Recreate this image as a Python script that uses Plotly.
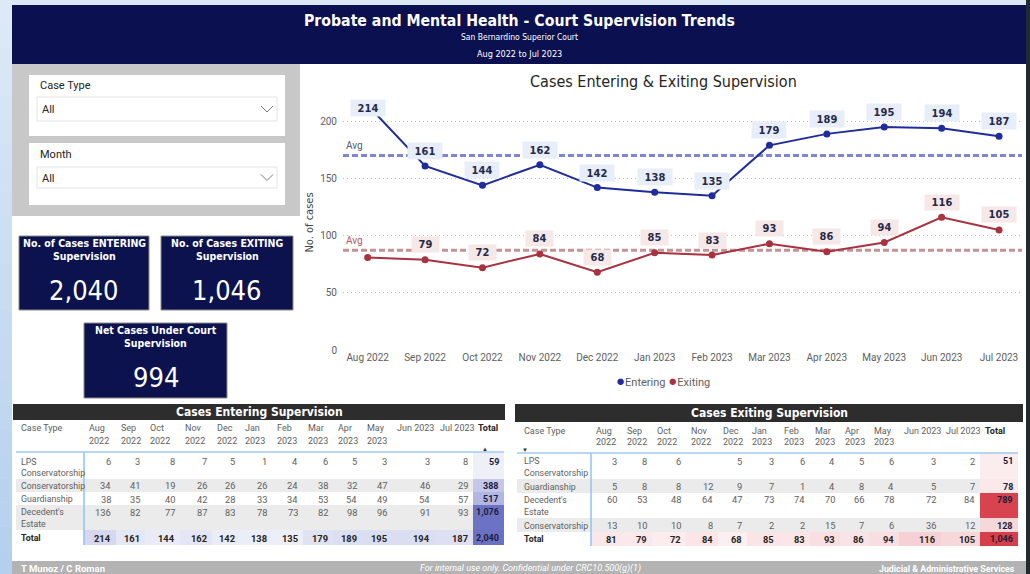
import plotly.graph_objects as go

W, H = 1030, 574

# ---------------- data ----------------
months = ["Aug 2022", "Sep 2022", "Oct 2022", "Nov 2022", "Dec 2022", "Jan 2023",
          "Feb 2023", "Mar 2023", "Apr 2023", "May 2023", "Jun 2023", "Jul 2023"]
entering = [214, 161, 144, 162, 142, 138, 135, 179, 189, 195, 194, 187]
exiting = [81, 79, 72, 84, 68, 85, 83, 93, 86, 94, 116, 105]

ent_types = ["LPS Conservatorship", "Conservatorship", "Guardianship", "Decedent's Estate"]
ent_lps = [6, 3, 8, 7, 5, 1, 4, 6, 5, 3, 3, 8]
ent_cons = [34, 41, 19, 26, 26, 26, 24, 38, 32, 47, 46, 29]
ent_guard = [38, 35, 40, 42, 28, 33, 34, 53, 54, 49, 54, 57]
ent_dec = [136, 82, 77, 87, 83, 78, 73, 82, 98, 96, 91, 93]

exit_types = ["LPS Conservatorship", "Guardianship", "Decedent's Estate", "Conservatorship"]
exit_lps = [3, 8, 6, None, 5, 3, 6, 4, 5, 6, 3, 2]
exit_guard = [5, 8, 8, 12, 9, 7, 1, 4, 8, 4, 5, 7]
exit_dec = [60, 53, 48, 64, 47, 73, 74, 70, 66, 78, 72, 84]
exit_cons = [13, 10, 10, 8, 7, 2, 2, 15, 7, 6, 36, 12]

# ---------------- style ----------------
F_UI = "Segoe UI, Roboto, sans-serif"
F_DIN = "DIN, DejaVu Sans Condensed, Roboto Condensed, Liberation Sans Narrow, Roboto, sans-serif"
NAVY = "#0b1150"
C_IN = "#1f2c9c"
C_OUT = "#a83240"
GRAY_TXT = "#605e5c"

shapes, ann = [], []


def X(x):
    return x / W


def Y(y):
    return 1 - y / H


def rect(x0, y0, x1, y1, fill, line=None, lw=0, layer="below"):
    shapes.append(dict(type="rect", xref="paper", yref="paper", x0=X(x0), x1=X(x1),
                       y0=Y(y1), y1=Y(y0), fillcolor=fill, layer=layer,
                       line=dict(color=line if line else "rgba(0,0,0,0)", width=lw)))


def hline(x0, x1, y, color, w):
    shapes.append(dict(type="line", xref="paper", yref="paper", x0=X(x0), x1=X(x1),
                       y0=Y(y), y1=Y(y), line=dict(color=color, width=w)))


def vline(x, y0, y1, color, w):
    shapes.append(dict(type="line", xref="paper", yref="paper", x0=X(x), x1=X(x),
                       y0=Y(y0), y1=Y(y1), line=dict(color=color, width=w)))


def txt(x, y, s, size=10, color="#333", anchor="center", family=F_UI, bold=False, italic=False):
    if bold:
        s = f"<b>{s}</b>"
    if italic:
        s = f"<i>{s}</i>"
    ann.append(dict(xref="paper", yref="paper", x=X(x), y=Y(y), text=s, showarrow=False,
                    xanchor=anchor, yanchor="middle", borderpad=0,
                    font=dict(size=size, color=color, family=family)))


def hex2rgb(c):
    c = c.lstrip("#")
    return [int(c[i:i + 2], 16) for i in (0, 2, 4)]


def lerp(c0, c1, t):
    a, b = hex2rgb(c0), hex2rgb(c1)
    return "#" + "".join(f"{round(a[i] + (b[i] - a[i]) * t):02x}" for i in range(3))


# ---------------- page background ----------------
rect(0, 0, 1026, 5, "#dce8f5")
n = 24
for i in range(n):
    rect(0, i * H / n, 12, (i + 1) * H / n + 0.5, lerp("#dde9f6", "#b4d0ee", i / (n - 1)))
rect(1026, 0, W, H, "#1e2b33")

# header
rect(12, 5, 1026, 64, NAVY)
txt(519, 20, "Probate and Mental Health - Court Supervision Trends", 15.7, "white", family=F_DIN, bold=True)
txt(519, 37, "San Bernardino Superior Court", 8.5, "white", family=F_DIN)
txt(519, 54, "Aug 2022 to Jul 2023", 9, "white", family=F_DIN)

# slicer panel
rect(12, 64, 300, 216, "#c8c8c8")
for (cy0, cy1, label, ly, dy0, dy1) in [(75, 136, "Case Type", 85, 97, 121),
                                        (143, 205, "Month", 154, 167, 188)]:
    rect(29, cy0, 285, cy1, "white")
    txt(39, ly, label, 11, "#252423", "left")
    rect(37, dy0, 277, dy1, "white", "#e3e3e3", 1)
    txt(41, (dy0 + dy1) / 2 + 1, "All", 11, "#252423", "left")
    cy = (dy0 + dy1) / 2
    shapes.append(dict(type="path", xref="paper", yref="paper",
                       path=f"M {X(261)},{Y(cy - 3)} L {X(267)},{Y(cy + 3)} L {X(273)},{Y(cy - 3)}",
                       line=dict(color="#777", width=1)))

# KPI cards
total_in = sum(entering)
total_out = sum(exiting)
net = total_in - total_out
for (x0, y0, x1, y1, l1, l2, val) in [
        (19, 236, 149, 310, "No. of Cases ENTERING", "Supervision", total_in),
        (161, 236, 293, 310, "No. of Cases EXITING", "Supervision", total_out),
        (84, 323, 227, 398, "Net Cases Under Court", "Supervision", net)]:
    rect(x0, y0, x1, y1, "#0c124d", "#8c8c8c", 1)
    cx = (x0 + x1) / 2
    txt(cx, y0 + 7, l1, 10.5, "white", family=F_DIN, bold=True)
    txt(cx, y0 + 20, l2, 10.5, "white", family=F_DIN, bold=True)
    txt(cx, y0 + 54, f"{val:,}", 27, "white", family=F_DIN)

# ---------------- line chart ----------------
fig = go.Figure()
fig.add_trace(go.Scatter(x=months, y=entering, mode="lines+markers", name="Entering",
                         line=dict(color=C_IN, width=2), marker=dict(size=7, color=C_IN),
                         cliponaxis=False, hoverinfo="skip"))
fig.add_trace(go.Scatter(x=months, y=exiting, mode="lines+markers", name="Exiting",
                         line=dict(color=C_OUT, width=2), marker=dict(size=7, color=C_OUT),
                         cliponaxis=False, hoverinfo="skip"))

txt(663, 82, "Cases Entering & Exiting Supervision", 16, "#252423", family=F_DIN)

avg_in = sum(entering) / len(entering)
avg_out = sum(exiting) / len(exiting)
for avg, col, tcol in [(avg_in, "#7d86d6", "#555a6e"), (avg_out, "#c49396", "#b05a60")]:
    shapes.append(dict(type="line", xref="paper", yref="y", x0=X(343), x1=X(1022), y0=avg, y1=avg,
                       line=dict(color=col, width=3, dash="6px,3px"), layer="below"))
    ann.append(dict(xref="paper", yref="y", x=X(344), y=avg, yshift=10, text="Avg", showarrow=False,
                    xanchor="left", font=dict(size=10, color=tcol, family=F_UI)))

for i, v in enumerate(entering):
    ann.append(dict(xref="x", yref="y", x=months[i], y=v, yshift=(-3 if i == 0 else 15),
                    text=f"<b>{v}</b>", showarrow=False, bgcolor="#e7edf9",
                    width=7 * len(str(v)) + 9, height=12, borderpad=2,
                    font=dict(size=11, color="#252a4a", family=F_DIN)))
for i, v in enumerate(exiting):
    if i == 0:
        continue
    ann.append(dict(xref="x", yref="y", x=months[i], y=v, yshift=15,
                    text=f"<b>{v}</b>", showarrow=False, bgcolor="#f7e8e8",
                    width=7 * len(str(v)) + 9, height=11, borderpad=2,
                    font=dict(size=11, color="#252a4a", family=F_DIN)))

ann.append(dict(xref="paper", yref="paper", x=X(663), y=Y(381), showarrow=False,
                text=(f'<span style="color:{C_IN};font-size:15px">●</span>Entering '
                      f'<span style="color:{C_OUT};font-size:15px">●</span>Exiting'),
                font=dict(size=11, color=GRAY_TXT, family=F_UI)))


# ---------------- tables ----------------
def draw_table(b, label_x, spans, tys, hy, cats, rows, tot_row, gray_rows,
               totcol_colors, trow_c0, trow_c1, title, bar, arrow):
    left, sep, tot_left, right = b[0], b[1], b[-2], b[-1]
    bx0, by0, bx1, by1 = bar
    rect(bx0, by0, bx1, by1, "#2d2d2d")
    txt((bx0 + bx1) / 2, (by0 + by1) / 2, title, 12, "white", family=F_DIN, bold=True)
    for r, (y0, y1) in enumerate(spans):
        if r in gray_rows:
            rect(left, y0, tot_left, y1, "#ebebeb")
        rect(tot_left, y0, right, y1, totcol_colors[r])
    y0, y1 = spans[-1]
    lo, hi = min(tot_row), max(tot_row)
    for j, v in enumerate(tot_row):
        rect(b[j + 1], y0, b[j + 2], y1, lerp(trow_c0, trow_c1, (v - lo) / (hi - lo)))
    # header
    txt(label_x, hy[0], "Case Type", 9, GRAY_TXT, "left")
    for j, m in enumerate(months):
        if b[j + 2] - b[j + 1] < 37:
            a, yr = m.split(" ")
            txt(b[j + 1] + 4, hy[0], a, 9, GRAY_TXT, "left")
            txt(b[j + 1] + 4, hy[1], yr, 9, GRAY_TXT, "left")
        else:
            txt(b[j + 1] + 4, hy[0], m, 9, GRAY_TXT, "left")
    txt(tot_left + 4, hy[0], "Total", 9, "#252423", "left", bold=True)
    ax, ay, sym = arrow
    txt(ax, ay, sym, 6, "#333", "left")
    hline(left, right, spans[0][0], "#9fcbf0", 1.5)
    vline(sep, spans[0][0], spans[-1][1], "#8fc3ef", 1.5)
    # body
    all_rows = rows + [tot_row]
    labels = cats + ["Total"]
    for r, vals in enumerate(all_rows):
        is_tot = r == len(all_rows) - 1
        for k, part in enumerate(labels[r].split(" ")):
            txt(label_x, tys[r] + k * 11.8, part, 8.8, "#252423" if is_tot else GRAY_TXT,
                "left", bold=is_tot)
        for j, v in enumerate(vals):
            if v is None:
                continue
            txt(b[j + 2] - 4, tys[r], f"{v:,}", 9.3, "#252423" if is_tot else GRAY_TXT,
                "right", bold=is_tot)
        total = sum(x for x in vals if x is not None)
        txt(right - 4, tys[r], f"{total:,}", 9, "#1c1c3c", "right", bold=True)


draw_table([16, 84, 116, 145, 180, 212, 240, 272, 303, 333, 362, 392, 435, 473, 504],
           20, [(452, 479), (479, 492), (492, 505), (505, 530), (530, 545)],
           [461.5, 485.5, 499, 512, 538], [428, 440.5], ent_types,
           [ent_lps, ent_cons, ent_guard, ent_dec], entering, [1, 3],
           ["#efeff8", "#c4c7e9", "#b2b6e2", "#6c73c4", "#6a71c3"],
           "#eceef8", "#d5d8ef", "Cases Entering Supervision", (13, 404, 505, 420),
           (481, 448, "▲"))

draw_table([517, 591, 622, 652, 686, 718, 747, 779, 810, 840, 869, 899, 941, 980, 1018],
           523, [(453, 479), (479, 493), (493, 518), (518, 532), (532, 546)],
           [461, 486.5, 500, 525.7, 539], [430.7, 442], exit_types,
           [exit_lps, exit_guard, exit_dec, exit_cons], exiting, [1, 3],
           ["#fbeced", "#fbe8e9", "#d7434f", "#f6d8da", "#d63e4a"],
           "#fdeff0", "#f6d0d4", "Cases Exiting Supervision", (515, 404, 1023, 422),
           (521, 449, "▼"))

# footer
rect(12, 561, 1026, 574, "#b3b3b3")
txt(20, 568.5, "T Munoz / C Roman", 9.5, "white", "left", bold=True)
txt(530, 568.5, "For internal use only. Confidential under CRC10.500(g)(1)", 9, "white", italic=True)
txt(1016, 568.5, "Judicial & Administrative Services", 8.8, "white", "right", bold=True)

fig.update_layout(
    width=W, height=H, margin=dict(l=0, r=0, t=0, b=0), autosize=False,
    paper_bgcolor="white", plot_bgcolor="rgba(0,0,0,0)", showlegend=False,
    hovermode=False, shapes=shapes, annotations=ann,
    xaxis=dict(domain=[X(343), X(1022)], range=[-0.43, 11.4], type="category",
               showgrid=False, zeroline=False, showline=False, ticks="",
               tickfont=dict(size=10, color=GRAY_TXT, family=F_UI), automargin=False),
    yaxis=dict(domain=[Y(350), Y(95)], range=[0, 223], dtick=50, showgrid=True,
               gridcolor="#bdbdbd", griddash="1px,3px", gridwidth=1, zeroline=False,
               showline=False, ticks="", ticklabelstandoff=5,
               tickfont=dict(size=10, color=GRAY_TXT, family=F_UI), automargin=False,
               title=dict(text="No. of cases", standoff=4,
                          font=dict(size=11, color="#444", family=F_DIN))),
)

fig.write_html("out.html", config={"displayModeBar": False},
               post_script="document.body.style.margin='0';document.body.style.overflow='hidden';")
